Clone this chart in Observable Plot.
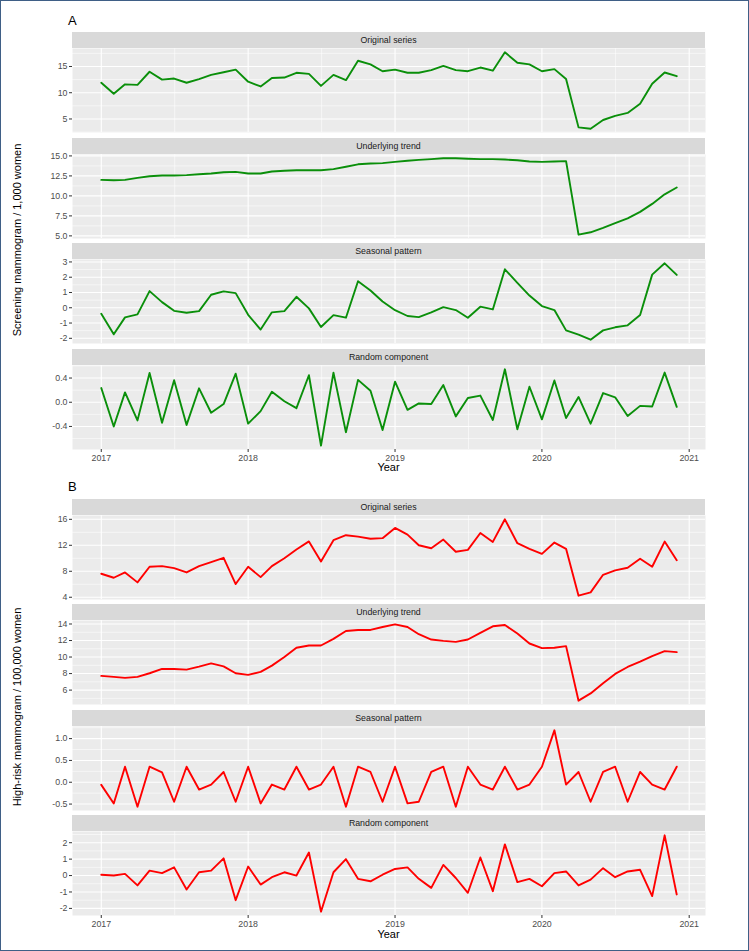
<!DOCTYPE html>
<html>
<head>
<meta charset="utf-8">
<script src="https://cdn.jsdelivr.net/npm/d3@7"></script>
<script src="https://cdn.jsdelivr.net/npm/@observablehq/plot@0.6"></script>
<style>
  html, body { margin: 0; padding: 0; background: #fff; }
  #page { position: relative; width: 749px; height: 951px; overflow: hidden; background: #fff;
          font-family: "Liberation Sans", Arial, Helvetica, sans-serif; }
  #frame { position: absolute; left: 0; top: 0; width: 749px; height: 951px; box-sizing: border-box;
           border: 1px solid #3f5f86; pointer-events: none; }
  .panel { position: absolute; left: 0; }
  .panel svg { overflow: visible; display: block; }
  .strip { position: absolute; left: 72px; width: 633px; height: 16px; line-height: 16px; background: #D9D9D9;
           color: #1A1A1A; font-size: 8.8px; text-align: center; }
  .tag { position: absolute; font-size: 13px; color: #000; line-height: 14px; }
  .xtitle { position: absolute; left: 72px; width: 633px; text-align: center; font-size: 11px; color: #000; line-height: 12px; }
  .ytitle { position: absolute; width: 420px; text-align: center; font-size: 11px; color: #000; line-height: 12px;
            transform: rotate(-90deg); transform-origin: center center; }
</style>
</head>
<body>
<div id="page"></div>
<script>
// ---------------- data ----------------
const facetTitles = ["Original series", "Underlying trend", "Seasonal pattern", "Random component"];
const yearTickValues = [2017, 2018, 2019, 2020, 2021];
const yearTickLabels = ["2017", "2018", "2019", "2020", "2021"];

// Panel A: screening mammogram / 1,000 women (monthly, Jan 2017 - Dec 2020)
const screenOriginal = [11.9, 9.8, 11.6, 11.5, 14.0, 12.5, 12.7, 11.9, 12.6, 13.4, 13.9, 14.4,
  12.1, 11.2, 12.8, 12.9, 13.8, 13.6, 11.3, 13.4, 12.4, 16.1, 15.4, 14.1,
  14.4, 13.8, 13.8, 14.3, 15.1, 14.3, 14.1, 14.8, 14.2, 17.7, 15.7, 15.4,
  14.1, 14.5, 12.6, 3.4, 3.15, 4.8, 5.6, 6.15, 7.9, 11.7, 13.85, 13.15];
const screenTrend = [12.0, 11.95, 12.0, 12.25, 12.45, 12.55, 12.55, 12.6, 12.7, 12.8, 12.95, 13.0,
  12.8, 12.8, 13.05, 13.15, 13.2, 13.2, 13.2, 13.35, 13.65, 13.95, 14.05, 14.1,
  14.25, 14.4, 14.5, 14.6, 14.7, 14.7, 14.65, 14.6, 14.6, 14.55, 14.45, 14.3,
  14.25, 14.3, 14.35, 5.15, 5.45, 6.0, 6.6, 7.2, 8.0, 9.0, 10.2, 11.05];
const screenSeasonal = [-0.39, -1.74, -0.63, -0.43, 1.09, 0.37, -0.2, -0.33, -0.22, 0.85, 1.07, 0.96,
  -0.46, -1.43, -0.3, -0.22, 0.72, -0.04, -1.26, -0.48, -0.65, 1.74, 1.13, 0.41,
  -0.16, -0.54, -0.61, -0.3, 0.04, -0.15, -0.65, 0.07, -0.11, 2.52, 1.63, 0.8,
  0.11, -0.15, -1.48, -1.76, -2.09, -1.48, -1.28, -1.15, -0.48, 2.17, 2.91, 2.15];
const screenRandom = [0.234, -0.40, 0.163, -0.30, 0.484, -0.34, 0.365, -0.375, 0.23, -0.174, -0.03, 0.473,
  -0.354, -0.147, 0.174, 0.016, -0.098, 0.446, -0.718, 0.49, -0.495, 0.37, 0.19, -0.46,
  0.34, -0.125, -0.02, -0.03, 0.283, -0.234, 0.07, 0.11, -0.294, 0.544, -0.446, 0.256,
  -0.283, 0.36, -0.26, 0.087, -0.354, 0.152, 0.082, -0.229, -0.06, -0.07, 0.49, -0.076];

// Panel B: high-risk mammogram / 100,000 women
const riskOriginal = [7.62, 7.0, 7.82, 6.29, 8.69, 8.79, 8.48, 7.82, 8.79, 9.4, 10.07, 6.03,
  8.69, 7.1, 8.79, 10.0, 11.35, 12.6, 9.5, 12.78, 13.55, 13.34, 13.0, 13.1,
  14.67, 13.65, 12.0, 11.55, 12.88, 11.0, 11.3, 13.9, 12.52, 16.0, 12.32, 11.45,
  10.68, 12.42, 11.45, 4.24, 4.75, 7.46, 8.13, 8.54, 9.92, 8.69, 12.57, 9.71];
const riskTrend = [7.72, 7.6, 7.48, 7.6, 8.04, 8.56, 8.56, 8.48, 8.84, 9.24, 8.88, 8.04,
  7.84, 8.2, 8.96, 10.0, 11.12, 11.4, 11.4, 12.2, 13.16, 13.28, 13.28, 13.64,
  13.96, 13.64, 12.76, 12.12, 11.96, 11.84, 12.12, 12.92, 13.72, 13.88, 12.84, 11.64,
  11.08, 11.12, 11.32, 4.72, 5.6, 6.84, 7.96, 8.8, 9.44, 10.12, 10.72, 10.6];
const riskSeasonal = [-0.06, -0.485, 0.356, -0.56, 0.356, 0.227, -0.447, 0.356, -0.167, -0.053, 0.235, -0.447,
  0.356, -0.485, -0.053, -0.167, 0.356, -0.167, -0.053, 0.356, -0.56, 0.356, 0.235, -0.447,
  0.356, -0.485, -0.447, 0.235, 0.356, -0.56, 0.356, -0.053, -0.167, 0.356, -0.167, -0.053,
  0.356, 1.19, -0.053, 0.235, -0.447, 0.235, 0.356, -0.447, 0.235, -0.053, -0.167, 0.356];
const riskRandom = [0.05, 0.0, 0.1, -0.6, 0.3, 0.15, 0.5, -0.85, 0.2, 0.3, 1.05, -1.5,
  0.55, -0.55, -0.1, 0.2, 0.0, 1.4, -2.2, 0.2, 1.0, -0.2, -0.35, 0.05,
  0.4, 0.5, -0.2, -0.75, 0.65, -0.15, -1.05, 1.1, -0.95, 1.9, -0.4, -0.2,
  -0.65, 0.15, 0.25, -0.6, -0.25, 0.45, -0.1, 0.25, 0.35, -1.25, 2.45, -1.15];

// y-axis tick values and labels per facet
const screenTicks = [[5, 10, 15], [5, 7.5, 10, 12.5, 15], [-2, -1, 0, 1, 2, 3], [-0.4, 0, 0.4]];
const screenTickLabels = [["5", "10", "15"], ["5.0", "7.5", "10.0", "12.5", "15.0"], ["-2", "-1", "0", "1", "2", "3"], ["-0.4", "0.0", "0.4"]];
const riskTicks = [[4, 8, 12, 16], [6, 8, 10, 12, 14], [-0.5, 0, 0.5, 1.0], [-2, -1, 0, 1, 2]];
const riskTickLabels = [["4", "8", "12", "16"], ["6", "8", "10", "12", "14"], ["-0.5", "0.0", "0.5", "1.0"], ["-2", "-1", "0", "1", "2"]];

const screenColor = "#0A8F0A";
const riskColor = "#FF0000";
const screenYTitle = "Screening mammogram / 1,000 women";
const riskYTitle = "High-risk mammogram / 100,000 women";
const xTitle = "Year";

// ---------------- layout ----------------
const page = document.getElementById("page");
const months = d3.utcMonth.range(new Date(Date.UTC(2017, 0, 1)), new Date(Date.UTC(2021, 0, 1)));
const yearTicks = yearTickValues.map(y => new Date(Date.UTC(y, 0, 1)));
const yearLabelMap = new Map(yearTicks.map((d, i) => [+d, yearTickLabels[i]]));
const yearMinor = d3.pairs(yearTicks).map(([a, b]) => new Date((+a + +b) / 2));
const xSpan = months[months.length - 1] - months[0];
const xDomain = [new Date(+months[0] - 0.05 * xSpan), new Date(+months[months.length - 1] + 0.05 * xSpan)];

const ML = 72, MR = 44, PH = 84, MT = 6, MB = 6, MBB = 22;
const STRIP = 16, PERIOD = 105.5;

function facetPlot(values, ticks, labels, color, bottom) {
  const [lo, hi] = d3.extent(values);
  const pad = (hi - lo) * 0.05;
  const dom = [lo - pad, hi + pad];
  const step = ticks[1] - ticks[0];
  const minor = [ticks[0] - step / 2, ...ticks.map(t => t + step / 2)].filter(v => v > dom[0] && v < dom[1]);
  const labelMap = new Map(ticks.map((t, i) => [t, labels[i]]));
  const rows = months.map((d, i) => ({date: d, value: values[i]}));
  return Plot.plot({
    width: 749,
    height: PH + MT + (bottom ? MBB : MB),
    marginLeft: ML, marginRight: MR, marginTop: MT, marginBottom: bottom ? MBB : MB,
    x: {type: "utc", domain: xDomain, axis: null},
    y: {domain: dom, axis: null},
    style: {background: "transparent", fontFamily: "'Liberation Sans', Arial, Helvetica, sans-serif", overflow: "visible"},
    marks: [
      Plot.frame({fill: "#EBEBEB", stroke: "none"}),
      Plot.ruleX(yearMinor, {stroke: "#FFFFFF", strokeWidth: 0.55}),
      Plot.ruleY(minor, {stroke: "#FFFFFF", strokeWidth: 0.55}),
      Plot.ruleX(yearTicks, {stroke: "#FFFFFF", strokeWidth: 1.1}),
      Plot.ruleY(ticks, {stroke: "#FFFFFF", strokeWidth: 1.1}),
      Plot.lineY(rows, {x: "date", y: "value", stroke: color, strokeWidth: 1.9, strokeLinejoin: "round"}),
      Plot.axisY(ticks, {anchor: "left", tickSize: 3, tickPadding: 2, tickFormat: d => labelMap.get(d),
        stroke: "#333333", fill: "#4D4D4D", fontSize: 8.8, label: null}),
      bottom ? Plot.axisX(yearTicks, {anchor: "bottom", tickSize: 3, tickPadding: 2, tickFormat: d => yearLabelMap.get(+d),
        stroke: "#333333", fill: "#4D4D4D", fontSize: 8.8, label: null}) : null
    ]
  });
}

function addEl(cls, text, css) {
  const el = document.createElement("div");
  el.className = cls;
  el.textContent = text;
  Object.assign(el.style, css);
  page.appendChild(el);
  return el;
}

function block(tagText, tagTop, firstStripTop, series, tickSets, labelSets, color, yTitle) {
  addEl("tag", tagText, {left: "68px", top: (tagTop - 7) + "px"});
  const strips = [];
  series.forEach((vals, k) => {
    const stripTop = firstStripTop + k * PERIOD;
    const panelTop = stripTop + STRIP;
    const wrap = document.createElement("div");
    wrap.className = "panel";
    wrap.style.top = (panelTop - MT) + "px";
    wrap.appendChild(facetPlot(vals, tickSets[k], labelSets[k], color, k === series.length - 1));
    page.appendChild(wrap);
    strips.push(stripTop);
  });
  strips.forEach((s, k) => addEl("strip", facetTitles[k], {top: s + "px"}));
  const bottom = firstStripTop + 3 * PERIOD + STRIP + PH;
  addEl("xtitle", xTitle, {top: (bottom + 12.5) + "px"});
  const mid = (firstStripTop + bottom) / 2;
  addEl("ytitle", yTitle, {left: (17 - 210) + "px", top: (mid - 6) + "px"});
}

block("A", 21, 32, [screenOriginal, screenTrend, screenSeasonal, screenRandom], screenTicks, screenTickLabels, screenColor, screenYTitle);
block("B", 487, 498.5, [riskOriginal, riskTrend, riskSeasonal, riskRandom], riskTicks, riskTickLabels, riskColor, riskYTitle);

const fr = document.createElement("div");
fr.id = "frame";
page.appendChild(fr);
</script>
</body>
</html>
